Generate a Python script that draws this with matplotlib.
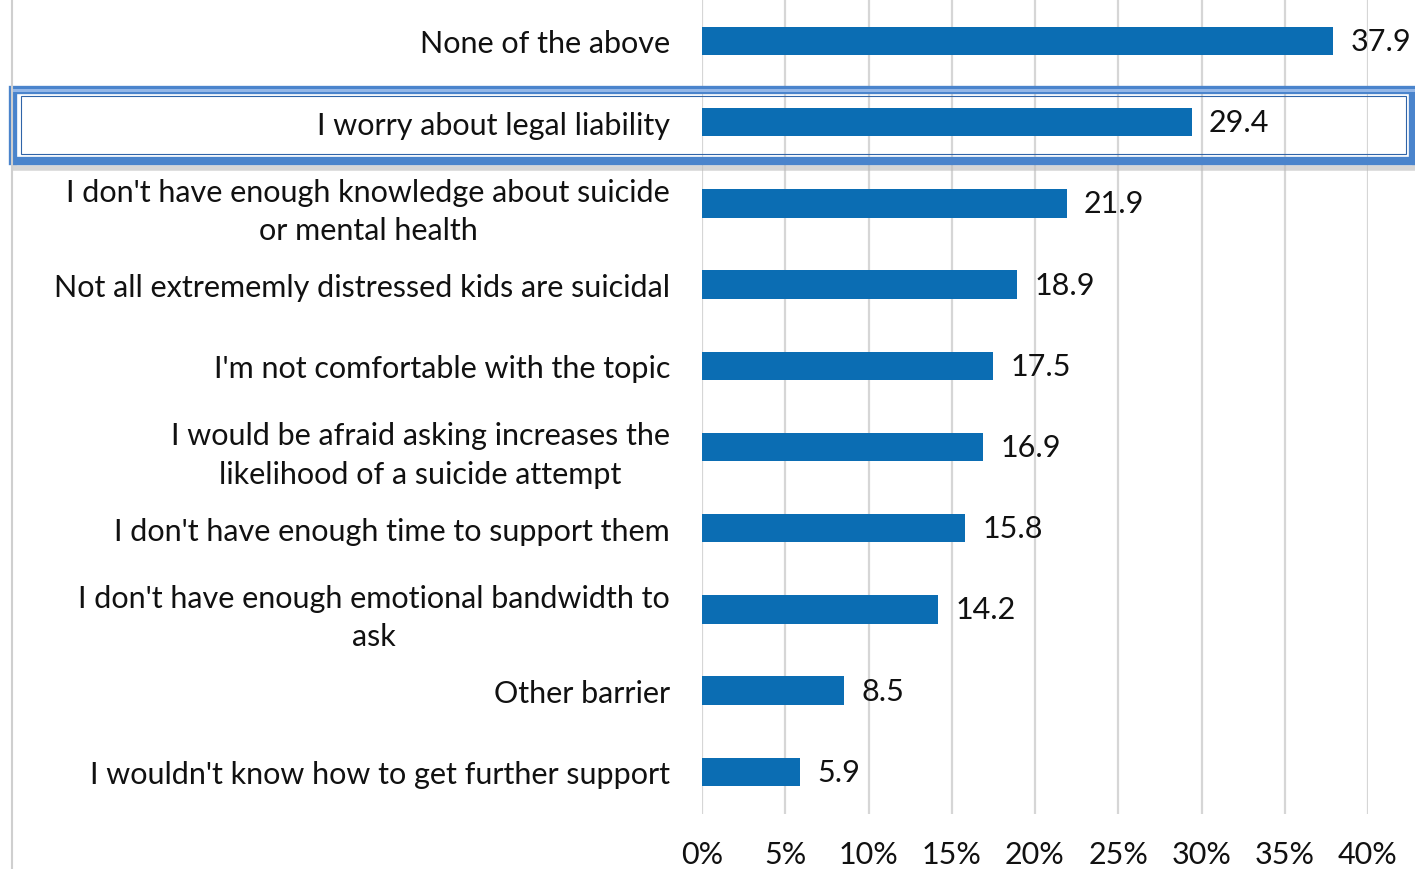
import matplotlib
matplotlib.use("Agg")
import matplotlib.pyplot as plt
from matplotlib.patches import Rectangle
from matplotlib.lines import Line2D

categories = [
    "None of the above",
    "I worry about legal liability",
    "I don't have enough knowledge about suicide\nor mental health",
    "Not all extrememly distressed kids are suicidal",
    "I'm not comfortable with the topic",
    "I would be afraid asking increases the\nlikelihood of a suicide attempt",
    "I don't have enough time to support them",
    "I don't have enough emotional bandwidth to\nask",
    "Other barrier",
    "I wouldn't know how to get further support",
]
values = [37.9, 29.4, 21.9, 18.9, 17.5, 16.9, 15.8, 14.2, 8.5, 5.9]
xticks = [0, 5, 10, 15, 20, 25, 30, 35, 40]
xtick_labels = ["0%", "5%", "10%", "15%", "20%", "25%", "30%", "35%", "40%"]

plt.rcParams['font.family'] = ['Lato', 'DejaVu Sans']
FS = 22

W, H = 1415, 870
fig = plt.figure(figsize=(W / 100, H / 100), dpi=100)
ax = fig.add_axes([702 / W, 1 - 815 / H, (1368 - 702) / W, 815 / H])

ypos = list(range(len(categories)))
ax.barh(ypos, values, height=0.35, color='#0b6db3', zorder=3)
for y, v in zip(ypos, values):
    ax.text(v + 1.05, y, f"{v:.1f}", va='center', ha='left', fontsize=FS,
            color='#111111', clip_on=False)

ax.set_xlim(0, 40)
ax.set_ylim(9.52, -0.517)
ax.set_xticks(xticks)
ax.set_xticklabels(xtick_labels, fontsize=FS, color='#111111')
ax.set_yticks(ypos)
ax.set_yticklabels(categories, fontsize=FS, color='#111111',
                   multialignment='center', linespacing=1.45)
ax.tick_params(axis='y', length=0, pad=23)
ax.tick_params(axis='x', length=0, pad=19)
ax.grid(axis='x', color='#d6d6d6', linewidth=1.6, zorder=0)
for s in ax.spines.values():
    s.set_visible(False)

# left vertical line
fig.add_artist(Line2D([12 / W, 12 / W], [0, 1], color='#cfcfcf', linewidth=1.5))

# highlight box with shadow
fig.add_artist(Rectangle((14 / W, 1 - 169 / H), 1401 / W, 77 / H, transform=fig.transFigure,
                         fill=False, edgecolor='#bbbbbb', linewidth=4, alpha=0.6))
fig.add_artist(Rectangle((13 / W, 1 - 162 / H), 1400 / W, 71 / H, transform=fig.transFigure,
                         fill=False, edgecolor='#4a84cc', linewidth=6))
fig.add_artist(Rectangle((11 / W, 1 - 93 / H), 1404 / W, 3 / H, transform=fig.transFigure,
                         fill=True, facecolor='#93b7e8', edgecolor='none'))
fig.add_artist(Rectangle((21 / W, 1 - 155 / H), 1385 / W, 58 / H, transform=fig.transFigure,
                         fill=False, edgecolor='#2f64a8', linewidth=0.8))

fig.savefig("out.png", dpi=100)
